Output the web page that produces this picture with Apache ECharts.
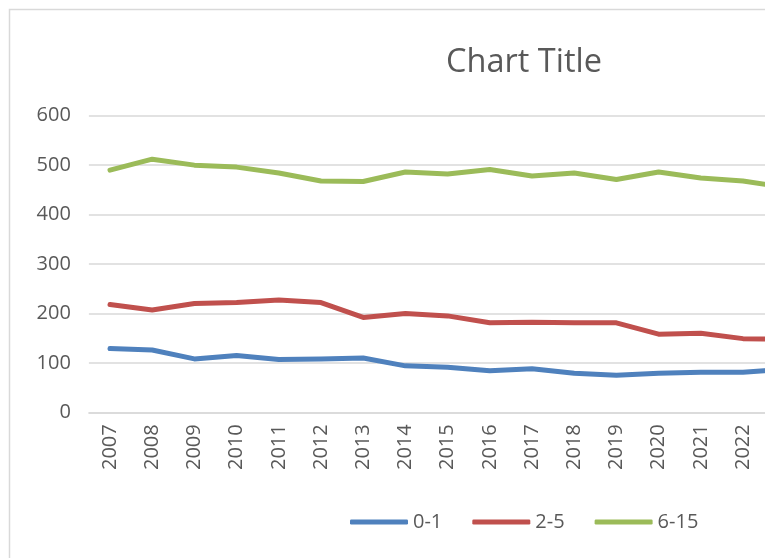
<!DOCTYPE html>
<html>
<head>
<meta charset="utf-8">
<script src="https://cdn.jsdelivr.net/npm/echarts@6/dist/echarts.min.js"></script>
<style>
html, body { margin: 0; padding: 0; overflow: hidden; width: 765px; height: 558px; background: #fff; }
#chart { width: 810px; height: 558px; }
</style>
</head>
<body>
<div id="chart"></div>
<script>
const categories = ['2007','2008','2009','2010','2011','2012','2013','2014','2015','2016','2017','2018','2019','2020','2021','2022','2023'];
const series01 = [129, 126, 108, 115, 107, 108, 110, 94, 91, 84, 88, 79, 75, 79, 81, 81, 87];
const series25 = [218, 207, 220, 222, 227, 222, 192, 200, 195, 181, 182, 181, 181, 158, 160, 149, 148];
const series615 = [490, 512, 500, 496, 484, 468, 467, 486, 482, 491, 478, 484, 471, 486, 474, 468, 455];
const yTicks = [0, 100, 200, 300, 400, 500, 600];
const seriesNames = ['0-1', '2-5', '6-15'];
const colors = ['#4F81BD', '#C0504D', '#9BBB59'];

const font = '"Open Sans", "Noto Sans", sans-serif';
const chart = echarts.init(document.getElementById('chart'), null, { renderer: 'canvas' });
const dataSets = [series01, series25, series615];

chart.setOption({
  animation: false,
  backgroundColor: '#ffffff',
  color: colors,
  graphic: [{
    type: 'rect',
    shape: { x: 9.5, y: 9.5, width: 2000, height: 2000 },
    style: { fill: 'none', stroke: '#d9d9d9', lineWidth: 1.5 },
    silent: true,
    z: -10
  }],
  title: {
    text: 'Chart Title',
    left: 519,
    textAlign: 'center',
    top: 41,
    textStyle: { fontFamily: font, fontSize: 32.5, fontWeight: 'normal', color: '#595959' }
  },
  legend: {
    data: seriesNames,
    left: 345,
    top: 507,
    icon: 'roundRect',
    itemWidth: 58,
    itemHeight: 5,
    itemGap: 30,
    textStyle: { fontFamily: font, fontSize: 20, color: '#595959' }
  },
  grid: { left: 88.9, right: 810 - 88.9 - 17 * 42.2, top: 115.7, bottom: 558 - 412.3, containLabel: false },
  xAxis: {
    type: 'category',
    data: categories,
    boundaryGap: true,
    axisLine: { show: true, lineStyle: { color: '#d9d9d9', width: 1.5 } },
    axisTick: { show: false },
    axisLabel: { rotate: 90, margin: 12, fontFamily: font, fontSize: 20, color: '#595959', interval: 0 }
  },
  yAxis: {
    type: 'value',
    min: yTicks[0],
    max: yTicks[yTicks.length - 1],
    interval: 100,
    axisLine: { show: false },
    axisTick: { show: false },
    splitLine: { lineStyle: { color: '#d9d9d9', width: 1.5 } },
    axisLabel: { margin: 18, fontFamily: font, fontSize: 20, color: '#595959' }
  },
  series: seriesNames.map((name, i) => ({
    name: name,
    type: 'line',
    data: dataSets[i],
    showSymbol: false,
    symbol: 'none',
    lineStyle: { width: 5, color: colors[i], cap: 'round', join: 'round' },
    itemStyle: { color: colors[i] }
  }))
});
</script>
</body>
</html>
